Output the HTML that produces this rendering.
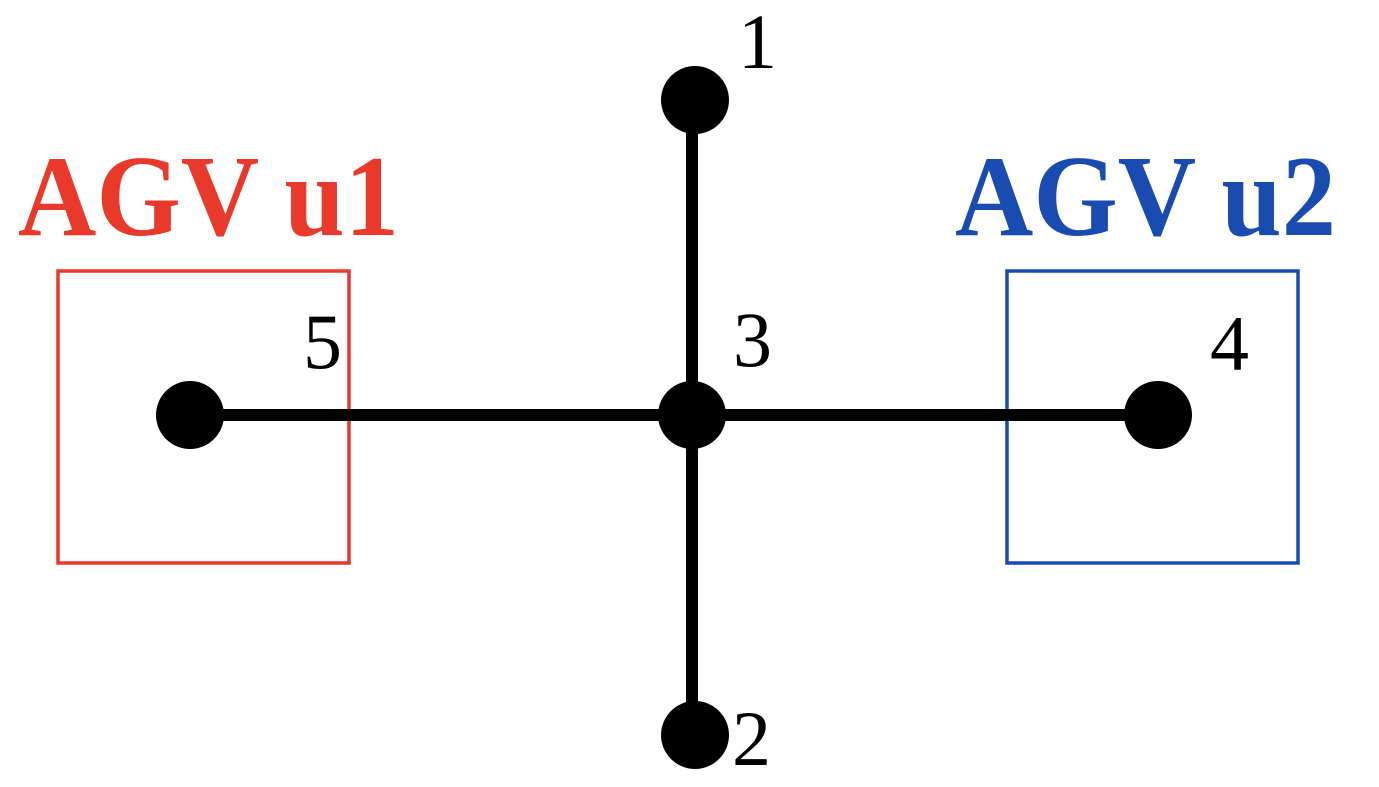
<!DOCTYPE html>
<html>
<head>
<meta charset="utf-8">
<style>
  html,body{margin:0;padding:0;background:#fff;}
  svg{display:block;}
  .num{font-family:"Liberation Serif",serif;font-size:78px;fill:#000;}
  .agv{font-family:"Liberation Serif",serif;font-size:116px;font-weight:bold;}
</style>
</head>
<body>
<svg id="chart" width="1379" height="787" viewBox="0 0 1379 787"></svg>
<script>
const nodeIds = ["1","2","3","4","5"];
const nodeX = [695, 695, 692, 1158, 190];
const nodeY = [100, 735, 415, 415, 415];
const edgeFrom = ["3","3","3","3"];
const edgeTo = ["1","2","4","5"];
const labelX = [738, 732, 733, 1210, 303];
const labelY = [68, 765, 366, 370, 368];
const agvNames = ["AGV u1","AGV u2"];
const agvColors = ["#e8392a","#1a4bb0"];

const NS = "http://www.w3.org/2000/svg";
const svg = document.getElementById("chart");
function mk(tag, attrs){const e=document.createElementNS(NS,tag);for(const k in attrs)e.setAttribute(k,attrs[k]);svg.appendChild(e);return e;}
function pos(id){const i=nodeIds.indexOf(id);return [nodeX[i],nodeY[i]];}

const boxX=[58,1007], boxY=[271,271], boxW=291, boxH=292;
agvNames.forEach((n,i)=>{
  const r=mk("rect",{x:boxX[i],y:boxY[i],width:boxW,height:boxH,fill:"none",stroke:agvColors[i],"stroke-width":3.5});
  
  
});

// edges drawn as orthogonal segments from hub
edgeFrom.forEach((f,i)=>{
  const [x1,y1]=pos(f),[x2,y2]=pos(edgeTo[i]);
  const vertical = Math.abs(x2-x1) < Math.abs(y2-y1);
  const l = vertical
    ? mk("line",{x1:x1,y1:y1,x2:x1,y2:y2,stroke:"#000","stroke-width":12})
    : mk("line",{x1:x1,y1:y1,x2:x2,y2:y1,stroke:"#000","stroke-width":12});
  
  
});

nodeIds.forEach((id,i)=>{
  const c=mk("circle",{cx:nodeX[i],cy:nodeY[i],r:34,fill:"#000"});
  
  
  const t=mk("text",{x:labelX[i],y:labelY[i],class:"num"});
  t.textContent=id;
  
  
});

const agvLabelX=[18,955], agvLabelY=[235,235];
agvNames.forEach((n,i)=>{
  const t=mk("text",{x:agvLabelX[i],y:agvLabelY[i],class:"agv",fill:agvColors[i],textLength:381,lengthAdjust:"spacingAndGlyphs"});
  t.textContent=n;
  
  
});
</script>
</body>
</html>
